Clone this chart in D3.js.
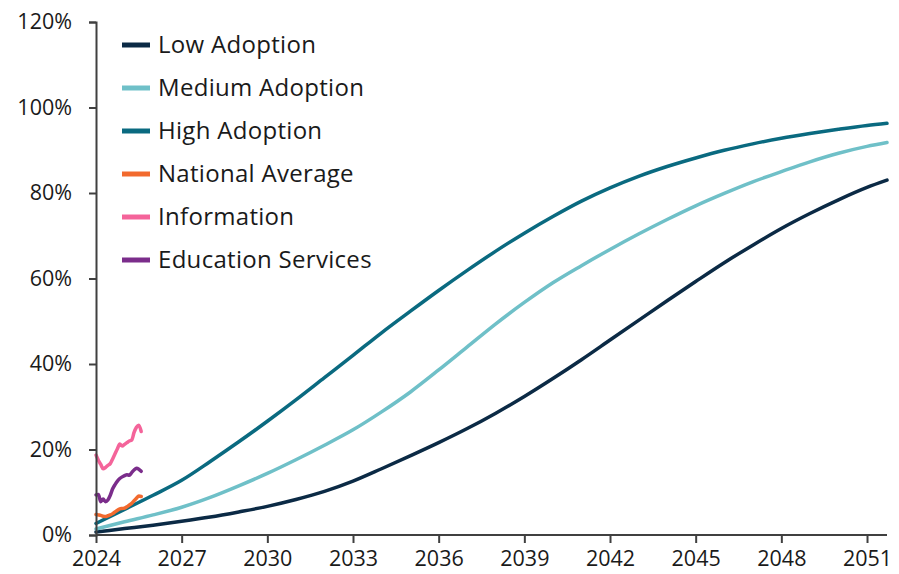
<!DOCTYPE html>
<html>
<head>
<meta charset="utf-8">
<script src="https://cdn.jsdelivr.net/npm/d3@7"></script>
<style>
  body { margin: 0; background: #fff; }
  svg text { font-family: "Open Sans", "Noto Sans", sans-serif; fill: #1a1a1a; }
</style>
</head>
<body>
<div id="chart"></div>
<script>
// yearly scenario curves (share of firms, %)
var years = [2024, 2025, 2026, 2027, 2028, 2029, 2030, 2031, 2032, 2033, 2034, 2035, 2036, 2037,
             2038, 2039, 2040, 2041, 2042, 2043, 2044, 2045, 2046, 2047, 2048, 2049, 2050, 2051, 2051.7];
var lowAdoption = [0.7, 1.5, 2.3, 3.2, 4.2, 5.4, 6.7, 8.3, 10.2, 12.6, 15.5, 18.5, 21.6, 24.9,
                   28.5, 32.4, 36.6, 41.0, 45.6, 50.2, 54.8, 59.3, 63.7, 67.8, 71.7, 75.2, 78.4, 81.3, 83.0];
var mediumAdoption = [1.4, 3.1, 4.7, 6.5, 8.8, 11.5, 14.4, 17.6, 21.0, 24.6, 28.8, 33.4, 38.6, 44.0,
                      49.4, 54.4, 59.0, 63.0, 66.8, 70.4, 73.8, 77.0, 79.9, 82.6, 85.0, 87.3, 89.3, 90.9, 91.8];
var highAdoption = [2.7, 6.0, 9.3, 12.8, 17.2, 21.8, 26.6, 31.6, 36.8, 42.0, 47.3, 52.3, 57.2, 61.9,
                    66.4, 70.6, 74.5, 78.1, 81.2, 83.9, 86.2, 88.2, 90.0, 91.5, 92.8, 93.9, 94.9, 95.8, 96.3];

// monthly observed series, Jan 2024 onward
var months = d3.range(20).map(function(i) { return 2024 + i / 12; });
var nationalAverage = [4.8, 4.7, 4.6, 4.4, 4.3, 4.5, 4.7, 5.0, 5.4, 5.8, 6.1, 6.2, 6.3, 6.6, 7.0, 7.4, 8.0, 8.6, 9.1, 9.0];
var information = [18.7, 17.5, 16.5, 15.5, 15.8, 16.3, 16.7, 17.8, 19.0, 20.2, 21.3, 20.8, 21.2, 21.6, 22.0, 22.2, 24.0, 25.2, 25.7, 24.2];
var educationServices = [9.4, 9.5, 7.8, 8.4, 7.8, 8.2, 9.3, 10.8, 11.8, 12.6, 13.2, 13.6, 13.9, 14.1, 14.0, 14.6, 15.2, 15.6, 15.4, 14.9];

var xTicks = [2024, 2027, 2030, 2033, 2036, 2039, 2042, 2045, 2048, 2051];
var yTicks = [0, 20, 40, 60, 80, 100, 120];

var series = [
  { name: "Low Adoption", color: "#0b2a45", x: years, y: lowAdoption },
  { name: "Medium Adoption", color: "#6fc0c8", x: years, y: mediumAdoption },
  { name: "High Adoption", color: "#0a6a80", x: years, y: highAdoption },
  { name: "National Average", color: "#f26a2e", x: months, y: nationalAverage },
  { name: "Information", color: "#f4649a", x: months, y: information },
  { name: "Education Services", color: "#7b2d8b", x: months, y: educationServices }
];

var width = 899, height = 574;
var margin = { left: 96, right: 12, top: 22, bottom: 39 };

var svg = d3.select("#chart").append("svg")
    .attr("width", width)
    .attr("height", height);

var xScale = d3.scaleLinear().domain([2024, 2051.7]).range([margin.left, width - margin.right]);
var yScale = d3.scaleLinear().domain([0, 120]).range([height - margin.bottom, margin.top]);

var line = d3.line()
    .x(function(d) { return xScale(d[0]); })
    .y(function(d) { return yScale(d[1]); })
    .curve(d3.curveMonotoneX);

// draw lines (scenarios first, observed on top)
series.forEach(function(s) {
  svg.append("path")
     .datum(s.x.map(function(v, i) { return [v, s.y[i]]; }))
     .attr("fill", "none")
     .attr("stroke", s.color)
     .attr("stroke-width", 3.5)
     .attr("stroke-linejoin", "round")
     .attr("stroke-linecap", "round")
     .attr("d", line);
});

var yAxis = svg.append("g")
    .attr("transform", "translate(" + margin.left + ",0)")
    .call(d3.axisLeft(yScale).tickValues(yTicks).tickSize(7).tickPadding(17)
          .tickFormat(function(d) { return d + "%"; }));

var xAxis = svg.append("g")
    .attr("transform", "translate(0," + (height - margin.bottom) + ")")
    .call(d3.axisBottom(xScale).tickValues(xTicks).tickSize(8).tickPadding(8)
          .tickFormat(d3.format("d")));

svg.selectAll(".domain, .tick line")
    .attr("stroke", "#404040")
    .attr("stroke-width", 2);
svg.selectAll(".tick text")
    .attr("font-size", 21.5)
    .attr("fill", "#1a1a1a")
    .style("font-family", "'Open Sans', sans-serif");
xAxis.select(".domain").attr("d", "M" + margin.left + ",0H" + (width - margin.right));

// legend
var legend = svg.append("g").attr("transform", "translate(122,45)");
series.forEach(function(s, i) {
  var g = legend.append("g").attr("transform", "translate(0," + (i * 43) + ")");
  g.append("line")
   .attr("x1", 0).attr("x2", 28)
   .attr("stroke", s.color)
   .attr("stroke-width", 5);
  g.append("text")
   .attr("x", 36)
   .attr("dy", "0.35em")
   .attr("font-size", 24)
   .attr("letter-spacing", 0.3)
   .text(s.name);
});
</script>
</body>
</html>
